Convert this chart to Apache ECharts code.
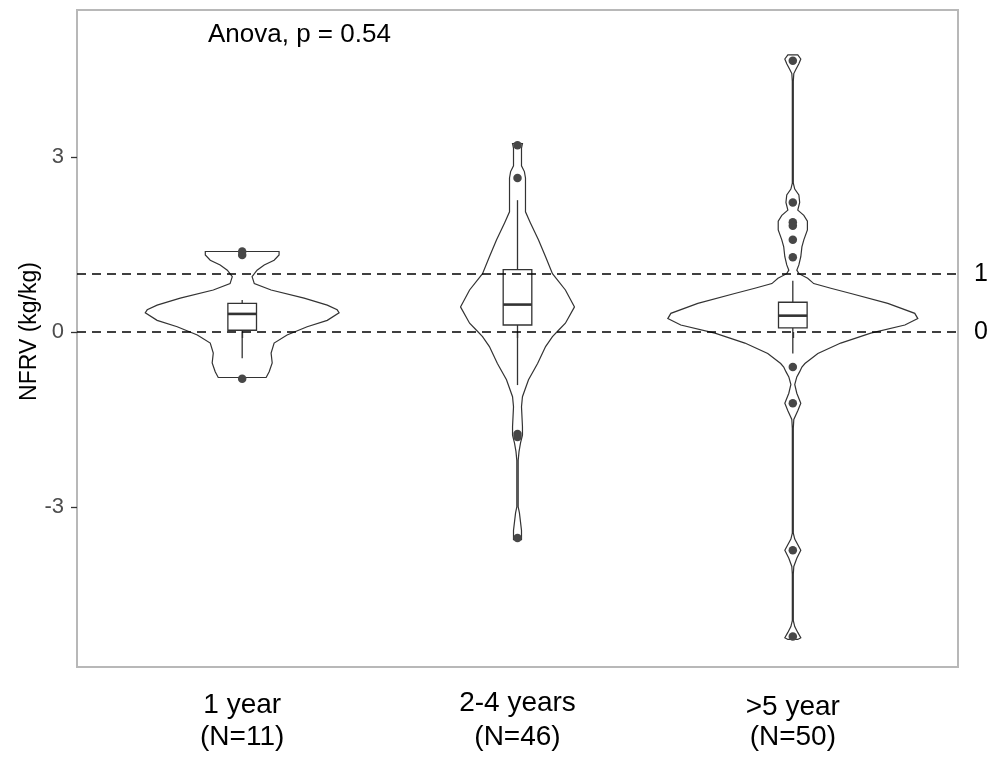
<!DOCTYPE html>
<html><head><meta charset="utf-8">
<script src="https://cdn.jsdelivr.net/npm/echarts@6/dist/echarts.min.js"></script>
<style>html,body{margin:0;padding:0;background:#fff}#c{width:990px;height:758px}</style>
</head><body><div id="c"></div>
<script>
// ---- data ----
const categories = ['1 year\n(N=11)', '2-4 years\n(N=46)', '>5 year\n(N=50)'];
const yTicks = [-3, 0, 3];
const refLines = [0, 1];
const annotation = 'Anova, p = 0.54';

// violin outlines: y values and density half-widths (x-axis units)
const violin1Y = [1.38, 1.32, 1.23, 1.15, 1.06, 0.95, 0.83, 0.72, 0.58, 0.46, 0.38, 0.33, 0.2, 0.09, -0.05, -0.19, -0.36, -0.53, -0.68, -0.78];
const violin1W = [0.134, 0.134, 0.116, 0.080, 0.054, 0.036, 0.044, 0.105, 0.225, 0.309, 0.345, 0.352, 0.309, 0.236, 0.163, 0.116, 0.105, 0.109, 0.098, 0.087];

const violin2Y = [3.23, 3.15, 2.85, 2.75, 2.64, 2.3, 2.06, 1.87, 1.58, 1.29, 1.0, 0.72, 0.43, 0.15, 0.03, -0.08, -0.25, -0.54, -0.82, -1.11, -1.28, -1.62, -1.77, -1.9, -2.05, -2.2, -3.0, -3.1, -3.4, -3.56];
const violin2W = [0.018, 0.0145, 0.0145, 0.025, 0.029, 0.029, 0.029, 0.047, 0.076, 0.102, 0.127, 0.174, 0.207, 0.174, 0.149, 0.127, 0.102, 0.073, 0.040, 0.018, 0.0145, 0.018, 0.018, 0.011, 0.0055, 0.0025, 0.0025, 0.007, 0.0145, 0.0145];

const violin3Y = [4.75, 4.68, 4.6, 4.5, 4.43, 4.3, 2.55, 2.45, 2.35, 2.22, 2.09, 2.0, 1.9, 1.75, 1.58, 1.46, 1.29, 1.15, 1.06, 1.0, 0.92, 0.83, 0.75, 0.66, 0.49, 0.32, 0.23, 0.12, -0.02, -0.19, -0.37, -0.54, -0.6, -0.68, -0.77, -0.9, -1.05, -1.22, -1.35, -1.5, -1.65, -3.45, -3.55, -3.74, -3.88, -4.02, -4.15, -4.95, -5.05, -5.15, -5.24, -5.27];
const violin3W = [0.018, 0.029, 0.022, 0.011, 0.0036, 0.0018, 0.0018, 0.007, 0.022, 0.025, 0.018, 0.040, 0.053, 0.053, 0.040, 0.033, 0.029, 0.022, 0.0145, 0.022, 0.054, 0.076, 0.138, 0.211, 0.345, 0.443, 0.454, 0.407, 0.283, 0.174, 0.091, 0.044, 0.033, 0.025, 0.0145, 0.007, 0.0145, 0.029, 0.018, 0.0036, 0.0018, 0.0018, 0.007, 0.029, 0.0145, 0.0036, 0.0018, 0.0018, 0.007, 0.018, 0.029, 0.018];

// boxplot stats: [lower whisker, Q1, median, Q3, upper whisker]
const box1 = [-0.45, 0.03, 0.31, 0.49, 0.55];
const box2 = [-0.91, 0.12, 0.47, 1.07, 2.26];
const box3 = [-0.37, 0.07, 0.28, 0.51, 0.88];

// outliers
const outliers1 = [1.38, 1.32, -0.8];
const outliers2 = [3.2, 2.64, -1.75, -1.8, -3.53];
const outliers3 = [4.65, 2.22, 1.88, 1.82, 1.58, 1.28, -0.6, -1.22, -3.74, -5.22];

// ---- build ----
const violinYs = [violin1Y, violin2Y, violin3Y];
const violinWs = [violin1W, violin2W, violin3W];
const boxes = [box1, box2, box3];
const outliers = [outliers1, outliers2, outliers3];
const BOX_HALF = 0.052;
const INK = '#333333';
const FONT = 'Liberation Sans, Arial, sans-serif';

const chart = echarts.init(document.getElementById('c'), null, {renderer: 'canvas'});

function violinItem(params, api) {
  const g = api.value(0);
  const ys = violinYs[g], ws = violinWs[g];
  const cx = g + 1;
  const left = [], right = [];
  for (let i = 0; i < ys.length; i++) {
    left.push(api.coord([cx - ws[i], ys[i]]));
    right.push(api.coord([cx + ws[i], ys[i]]));
  }
  const pts = left.concat(right.reverse());
  return {type: 'polygon', shape: {points: pts}, style: {fill: 'none', stroke: INK, lineWidth: 1.2}};
}

function boxItem(params, api) {
  const g = api.value(0);
  const cx = g + 1;
  const lw = api.value(1), q1 = api.value(2), med = api.value(3), q3 = api.value(4), uw = api.value(5);
  const tl = api.coord([cx - BOX_HALF, q3]);
  const br = api.coord([cx + BOX_HALF, q1]);
  const mL = api.coord([cx - BOX_HALF, med]);
  const mR = api.coord([cx + BOX_HALF, med]);
  const wTop = api.coord([cx, uw]);
  const wQ3 = api.coord([cx, q3]);
  const wQ1 = api.coord([cx, q1]);
  const wBot = api.coord([cx, lw]);
  return {
    type: 'group',
    children: [
      {type: 'line', shape: {x1: wTop[0], y1: wTop[1], x2: wQ3[0], y2: wQ3[1]}, style: {stroke: INK, lineWidth: 1.3}},
      {type: 'line', shape: {x1: wQ1[0], y1: wQ1[1], x2: wBot[0], y2: wBot[1]}, style: {stroke: INK, lineWidth: 1.3}},
      {type: 'rect', shape: {x: tl[0], y: tl[1], width: br[0] - tl[0], height: br[1] - tl[1]}, style: {fill: 'none', stroke: INK, lineWidth: 1.3}},
      {type: 'line', shape: {x1: mL[0], y1: mL[1], x2: mR[0], y2: mR[1]}, style: {stroke: INK, lineWidth: 2.6}}
    ]
  };
}

const outlierData = [];
outliers.forEach((arr, g) => arr.forEach(v => outlierData.push([g + 1, v])));

const labelBase = {fontSize: 28, lineHeight: 34, color: '#000', fontFamily: FONT};
const labelShift = [4, 0, 8];

const option = {
  backgroundColor: '#ffffff',
  animation: false,
  textStyle: {fontFamily: FONT},
  title: {
    text: annotation, left: 203, top: 17,
    textStyle: {fontSize: 26, fontWeight: 'normal', color: '#000', fontFamily: FONT}
  },
  grid: {left: 77, right: 32, top: 10, bottom: 91, show: true, borderColor: '#b8b8b8', borderWidth: 2, backgroundColor: 'transparent'},
  xAxis: {
    type: 'value', min: 0.4, max: 3.6,
    axisLine: {show: false},
    splitLine: {show: false},
    axisTick: {show: true, length: 6, lineStyle: {color: INK, width: 1.3}, customValues: [1, 2, 3]},
    axisLabel: {
      customValues: [1, 2, 3], margin: 19, fontSize: 28, lineHeight: 34, color: '#000',
      fontFamily: FONT,
      formatter: v => {
        const i = Math.round(v) - 1;
        const lines = categories[i].split('\n');
        return '{p' + i + '|' + lines[0] + '}\n{n|' + lines[1] + '}';
      },
      rich: {
        p0: Object.assign({padding: [labelShift[0], 0, 0, 0]}, labelBase),
        p1: Object.assign({padding: [labelShift[1], 0, 0, 0]}, labelBase),
        p2: Object.assign({padding: [labelShift[2], 0, 0, 0]}, labelBase),
        n: Object.assign({}, labelBase)
      }
    }
  },
  yAxis: {
    type: 'value', min: -5.743, max: 5.52,
    name: 'NFRV (kg/kg)', nameLocation: 'middle', nameGap: 36, nameMoveOverlap: false,
    nameTextStyle: {fontSize: 23, color: '#000', fontFamily: FONT, padding: [0, 0, 0, 14]},
    axisLine: {show: false},
    splitLine: {show: false},
    axisTick: {show: true, length: 6, lineStyle: {color: INK, width: 1.3}, customValues: yTicks},
    axisLabel: {customValues: yTicks, margin: 13, fontSize: 22, color: '#4d4d4d', fontFamily: FONT}
  },
  series: [
    {
      type: 'custom', name: 'violin', renderItem: violinItem,
      data: [[0], [1], [2]], encode: {x: 0, y: -1}, silent: true, z: 2
    },
    {
      type: 'custom', name: 'box', renderItem: boxItem,
      data: boxes.map((b, g) => [g].concat(b)), encode: {x: 0, y: [1, 2, 3, 4, 5]}, silent: true, z: 3
    },
    {
      type: 'scatter', name: 'outliers', data: outlierData, symbol: 'circle', symbolSize: 8.5,
      itemStyle: {color: '#474747', opacity: 1}, z: 4, silent: true,
      markLine: {
        silent: true, symbol: 'none',
        lineStyle: {type: [9, 6], color: '#000', width: 1.6},
        label: {show: true, position: 'end', distance: 16, formatter: p => String(p.value), fontSize: 25, color: '#000', fontFamily: FONT},
        data: refLines.map(v => ({yAxis: v}))
      }
    }
  ]
};
chart.setOption(option);
</script>
</body></html>
